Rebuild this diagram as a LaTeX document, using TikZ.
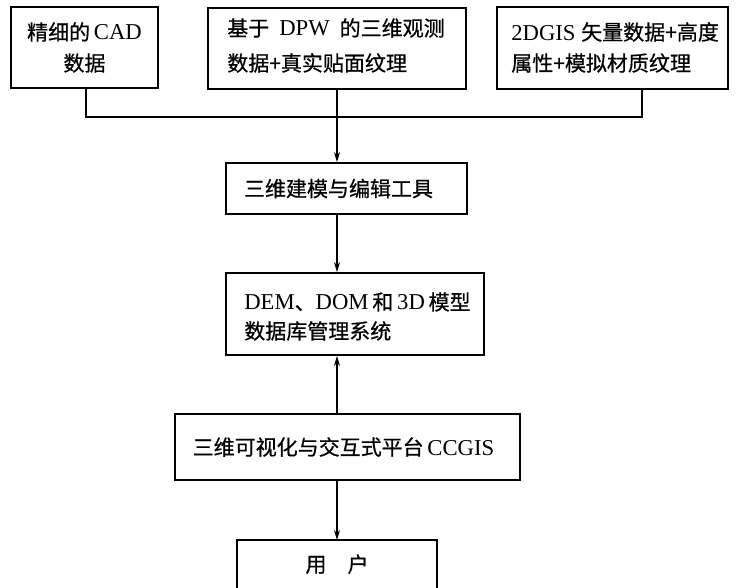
\documentclass[tikz,border=0pt]{standalone}
\usepackage{fontspec}
\setmainfont{Liberation Serif}[Scale=1.08]
\newfontfamily\zhfont{Noto Sans CJK SC}[FakeBold=0.6]
\newcommand\zh[1]{{\zhfont #1}}
\usetikzlibrary{arrows.meta,calc}
\begin{document}
\begin{tikzpicture}[x=1pt,y=-1pt,
  boxline/.style={line width=1.8pt},
  txt/.style={inner sep=0pt,font=\fontsize{21}{31}\selectfont},
  box/.style={draw,boxline,txt},
  ltxt/.style={txt,align=left,anchor=west},
  conn/.style={line width=1.3pt},
  arr/.style={conn,-{Stealth[length=10pt,width=6pt]}}]
\clip (0,0) rectangle (737,588);
\useasboundingbox (0,0) rectangle (737,588);
\fill[white] (0,0) rectangle (737,588);

\node[box, minimum width=147pt, minimum height=81pt, align=center] (b1) at (84.5,47.5)
  {\zh{精细的}\,CAD\\\zh{数据}};
\node[box, minimum width=258pt, minimum height=81pt] (b2) at (337,48.5) {};
\node[ltxt, font=\fontsize{21}{35}\selectfont] (t2) at ($(b2.west)+(20,-3)$)
  {\zh{基于}\hspace{10pt}DPW\hspace{10pt}\zh{的三维观测}\\\zh{数据+真实贴面纹理}};
\node[box, minimum width=231pt, minimum height=82pt] (b3) at (612.5,48) {};
\node[ltxt] (t3) at ($(b3.west)+(15,-0.5)$)
  {2DGIS \zh{矢量数据+高度}\\\zh{属性+模拟材质纹理}};
\node[box, minimum width=241pt, minimum height=51pt] (b4) at (346.5,188.5)
  {\zh{三维建模与编辑工具}\hspace*{16pt}};
\node[box, minimum width=258pt, minimum height=82pt] (b5) at (355,314) {};
\node[ltxt, font=\fontsize{21}{29}\selectfont] (t5) at ($(b5.west)+(19,2.5)$)
  {DEM\zh{、}DOM\,\zh{和}\,3D\,\zh{模型}\\\zh{数据库管理系统}};
\node[box, minimum width=345pt, minimum height=66pt] (b6) at (347.5,447)
  {\zh{三维可视化与交互式平台}\,CCGIS\hspace*{8pt}};
\node[txt, minimum width=200pt, minimum height=48pt, anchor=north] (b7) at (337,540)
  {\zh{用\quad 户}};
\draw[boxline] ([yshift=-20pt]b7.south west) -- (b7.north west) -- (b7.north east) -- ([yshift=-20pt]b7.south east);

\coordinate (busL) at ($(b1.south)+(1.5,28)$);
\coordinate (drop1) at ($(b1.south)+(1.5,0)$);
\coordinate (drop3) at ($(b3.south)+(29.5,0)$);
\draw[conn] (drop1) -- (busL) -| (drop3);
\draw[arr] (b2.south) -- (b2.south |- b4.north);
\draw[arr] (b4.south -| b7.north) -- (b5.north -| b7.north);
\draw[arr] (b6.north -| b7.north) -- (b5.south -| b7.north);
\draw[arr] (b6.south -| b7.north) -- (b7.north);
\end{tikzpicture}
\end{document}
